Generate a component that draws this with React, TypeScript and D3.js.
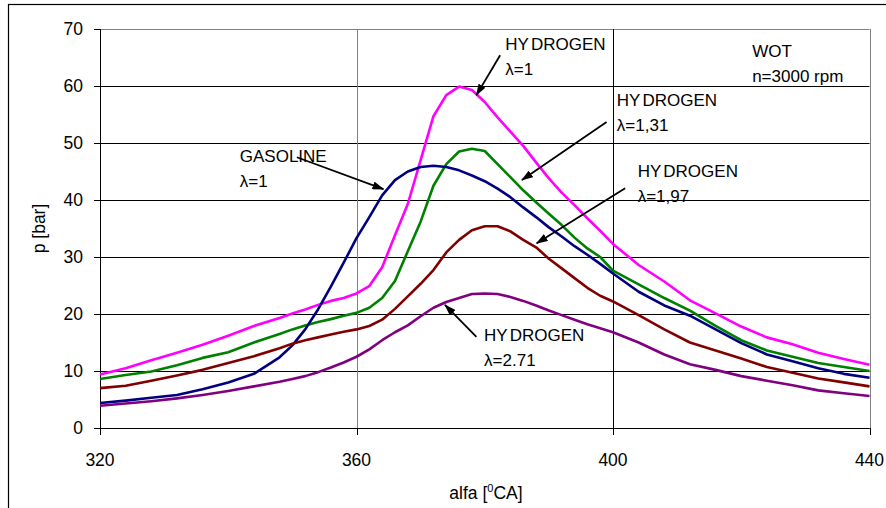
import React from 'react';
import * as d3 from 'd3';

// crank angle [deg CA]
const alfa = [320, 324, 328, 332, 336, 340, 344, 348, 350, 352, 354, 356, 358, 360, 362, 364, 366, 368, 370, 372, 374, 376, 378, 380, 382, 384, 386, 388, 390, 392, 394, 396, 398, 400, 404, 408, 412, 416, 420, 424, 428, 432, 436, 440];

// cylinder pressure [bar]
const hydrogen100 = [9.4, 10.5, 11.9, 13.2, 14.6, 16.2, 17.9, 19.3, 20.1, 20.8, 21.6, 22.3, 22.8, 23.6, 24.9, 28.2, 33.8, 39.3, 47.0, 54.7, 58.4, 59.9, 59.3, 57.2, 54.5, 52.0, 49.5, 46.6, 43.8, 41.3, 39.1, 36.8, 34.6, 32.3, 28.6, 25.7, 22.4, 20.1, 17.8, 15.9, 14.7, 13.2, 12.1, 11.1];
const hydrogen131 = [8.6, 9.3, 9.9, 11.0, 12.3, 13.3, 15.0, 16.5, 17.3, 18.0, 18.6, 19.1, 19.7, 20.2, 21.1, 22.8, 25.8, 31.0, 36.2, 42.5, 46.3, 48.5, 49.0, 48.6, 46.3, 44.0, 41.7, 39.6, 37.6, 35.6, 33.4, 31.5, 30.0, 27.6, 25.2, 22.8, 20.6, 17.9, 15.4, 13.6, 12.5, 11.4, 10.7, 10.0];
const gasoline = [4.4, 4.8, 5.3, 5.8, 6.8, 8.0, 9.5, 12.4, 14.5, 17.3, 20.8, 24.8, 29.0, 33.3, 37.0, 40.8, 43.5, 45.0, 45.8, 46.0, 45.8, 45.2, 44.3, 43.3, 42.0, 40.5, 38.7, 37.0, 35.2, 33.6, 31.9, 30.4, 28.8, 27.1, 23.9, 21.5, 19.7, 17.3, 14.9, 12.9, 11.7, 10.5, 9.5, 8.8];
const hydrogen197 = [7.0, 7.4, 8.3, 9.2, 10.2, 11.4, 12.6, 14.0, 14.8, 15.4, 15.9, 16.4, 16.9, 17.3, 17.9, 19.0, 20.9, 23.1, 25.3, 27.7, 30.8, 33.0, 34.7, 35.4, 35.4, 34.5, 33.0, 31.7, 29.7, 28.0, 26.3, 24.6, 23.2, 22.2, 19.8, 17.3, 15.0, 13.6, 12.2, 10.7, 9.7, 8.7, 8.0, 7.3];
const hydrogen271 = [3.9, 4.3, 4.7, 5.2, 5.8, 6.5, 7.3, 8.1, 8.6, 9.1, 9.8, 10.6, 11.5, 12.5, 13.8, 15.4, 16.8, 18.0, 19.6, 21.1, 22.1, 22.8, 23.5, 23.6, 23.5, 23.0, 22.3, 21.5, 20.6, 19.8, 19.0, 18.2, 17.5, 16.8, 15.0, 12.9, 11.2, 10.2, 9.1, 8.3, 7.5, 6.6, 6.1, 5.6];

const xTicks = [320, 360, 400, 440];
const yTicks = [0, 10, 20, 30, 40, 50, 60, 70];

const series = [
  { name: 'hydrogen λ=1', values: hydrogen100, color: '#ff00ff' },
  { name: 'hydrogen λ=1,31', values: hydrogen131, color: '#008000' },
  { name: 'gasoline λ=1', values: gasoline, color: '#000080' },
  { name: 'hydrogen λ=1,97', values: hydrogen197, color: '#800000' },
  { name: 'hydrogen λ=2.71', values: hydrogen271, color: '#800080' },
];

// labels in data units: text position, arrow tail -> arrow tip
const notes = [
  { title: 'HYDROGEN', sub: 'λ=1', at: [383.2, 66.3], from: [382.4, 65.4], to: [378.7, 58.4] },
  { title: 'HYDROGEN', sub: 'λ=1,31', at: [400.6, 56.5], from: [399.0, 53.7], to: [385.8, 43.5] },
  { title: 'HYDROGEN', sub: 'λ=1,97', at: [403.85, 44.1], from: [401.9, 42.05], to: [388.1, 32.4] },
  { title: 'GASOLINE', sub: 'λ=1', at: [341.8, 46.7], from: [350.7, 47.5], to: [364.2, 41.9] },
  { title: 'HYDROGEN', sub: 'λ=2.71', at: [379.9, 15.3], from: [378.7, 16.0], to: [373.8, 21.6] },
  { title: 'WOT', sub: 'n=3000 rpm', at: [421.7, 65.1], from: null, to: null },
];

const font = "'Liberation Sans', Arial, sans-serif";

const Title = ({ t }: { t: string }) => {
  // the source draws HYDROGEN with a gap after HY
  if (t === 'HYDROGEN') {
    return (
      <>
        <tspan>HY</tspan>
        <tspan dx={2}>DROGEN</tspan>
      </>
    );
  }
  return <>{t}</>;
};

export default function App() {
  const width = 886;
  const height = 508;

  const x = d3.scaleLinear().domain([320, 440]).range([100, 869.5]);
  const y = d3.scaleLinear().domain([0, 70]).range([428, 29]);

  const line = d3
    .line<number>()
    .x((_, i) => x(alfa[i]))
    .y((d) => y(d));

  return (
    <svg
      width={width}
      height={height}
      style={{ position: 'absolute', left: 0, top: 0, background: '#fff' }}
      fontFamily={font}
    >
      <defs>
        <marker id="arrow" viewBox="0 0 12 8" refX="11" refY="4" markerWidth="12" markerHeight="8" markerUnits="userSpaceOnUse" orient="auto">
          <path d="M0,0 L12,4 L0,8 z" fill="#000" />
        </marker>
      </defs>

      {/* outer chart frame */}
      <rect x={8.5} y={4.5} width={900} height={520} fill="none" stroke="#000" strokeWidth={1.2} />

      {/* grid */}
      {yTicks.map((t) => (
        <line key={'gy' + t} x1={x(320)} x2={x(440)} y1={Math.round(y(t)) + 0.5} y2={Math.round(y(t)) + 0.5}
          stroke={t === 70 ? '#808080' : '#000'} strokeWidth={1} />
      ))}
      {xTicks.slice(1).map((t) => (
        <line key={'gx' + t} x1={Math.round(x(t)) + 0.5} x2={Math.round(x(t)) + 0.5} y1={y(70)} y2={y(0)}
          stroke={t === 400 ? '#000' : '#808080'} strokeWidth={1} />
      ))}

      {/* axes */}
      <line x1={100.5} x2={100.5} y1={y(70)} y2={y(0)} stroke="#000" />
      <line x1={x(320)} x2={x(440)} y1={Math.round(y(0)) + 0.5} y2={Math.round(y(0)) + 0.5} stroke="#000" />
      {yTicks.map((t) => (
        <g key={'ty' + t}>
          <line x1={94} x2={100.5} y1={Math.round(y(t)) + 0.5} y2={Math.round(y(t)) + 0.5} stroke="#000" />
          <text x={83} y={y(t) + 6} textAnchor="end" fontSize={17.5} fill="#000">{t}</text>
        </g>
      ))}
      {xTicks.map((t) => (
        <g key={'tx' + t}>
          <line x1={Math.round(x(t)) + 0.5} x2={Math.round(x(t)) + 0.5} y1={y(0)} y2={y(0) + 7} stroke="#000" />
          <text x={x(t)} y={466} textAnchor="middle" fontSize={17.5} fill="#000">{t}</text>
        </g>
      ))}

      {/* axis titles */}
      <text x={486} y={499} textAnchor="middle" fontSize={17.5} fill="#000">
        alfa [<tspan dy={-7} fontSize={11}>0</tspan><tspan dy={7}>CA]</tspan>
      </text>
      <text transform={`translate(45,${(y(0) + y(70)) / 2}) rotate(-90)`} textAnchor="middle" fontSize={17.5} fill="#000">
        p [bar]
      </text>

      {/* curves */}
      {series.map((s) => (
        <path key={s.name} d={line(s.values) || ''} fill="none" stroke={s.color} strokeWidth={2.6} strokeLinejoin="round" />
      ))}

      {/* annotations */}
      {notes.map((n, i) => (
        <g key={'n' + i}>
          {n.from && n.to && (
            <line x1={x(n.from[0])} y1={y(n.from[1])} x2={x(n.to[0])} y2={y(n.to[1])}
              stroke="#000" strokeWidth={1.8} markerEnd="url(#arrow)" />
          )}
          <text x={x(n.at[0])} y={y(n.at[1])} fontSize={17} fill="#000"><Title t={n.title} /></text>
          <text x={x(n.at[0])} y={y(n.at[1]) + 25} fontSize={17} fill="#000">{n.sub}</text>
        </g>
      ))}
    </svg>
  );
}
